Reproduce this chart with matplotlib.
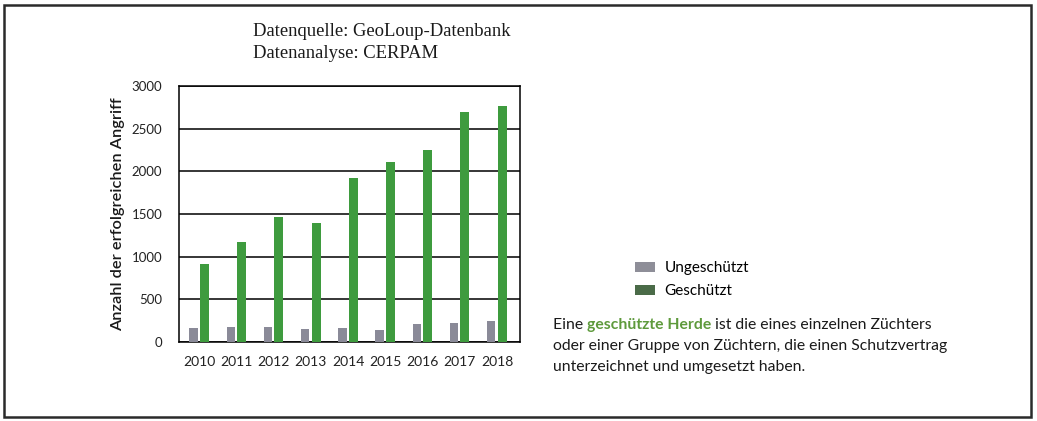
import matplotlib
matplotlib.use("Agg")
import matplotlib.pyplot as plt
from matplotlib.patches import Patch, Rectangle
import numpy as np

years = ["2010", "2011", "2012", "2013", "2014", "2015", "2016", "2017", "2018"]
ungeschuetzt = [165, 178, 178, 147, 167, 144, 213, 217, 248]
geschuetzt = [910, 1170, 1460, 1400, 1920, 2110, 2250, 2690, 2770]
yticks = [0, 500, 1000, 1500, 2000, 2500, 3000]
legend_labels = ["Ungeschützt", "Geschützt"]

W, H = 1037, 421
fig = plt.figure(figsize=(W / 100, H / 100), dpi=100)
fig.patch.set_facecolor("white")

def fx(px):
    return px / W

def fy(py):
    return 1 - py / H

# outer border
fig.add_artist(Rectangle((fx(4), fy(417)), fx(1031) - fx(4), fy(5) - fy(417),
                         transform=fig.transFigure, fill=False,
                         edgecolor="#2a2a2a", linewidth=1.8))

ax = fig.add_axes([fx(179), fy(342), fx(520) - fx(179), fy(86) - fy(342)])
x = np.arange(len(years))
gray = "#8a8a98"
green = "#3e9b3e"
ax.bar(x - 0.155, ungeschuetzt, width=0.225, color=gray, zorder=3)
ax.bar(x + 0.14, geschuetzt, width=0.24, color=green, zorder=3)
ax.set_xlim(-0.546, 8.62)
ax.set_ylim(0, 3000)
ax.set_yticks(yticks)
ax.set_xticks(x)
ax.set_xticklabels(years)
ax.yaxis.grid(True, color="black", linewidth=1.1, zorder=1)
for s in ax.spines.values():
    s.set_color("black")
    s.set_linewidth(1.1)
ax.tick_params(axis="y", length=0, labelsize=9.5, pad=12)
ax.tick_params(axis="x", length=0, labelsize=10, pad=10)
for lab in ax.get_xticklabels() + ax.get_yticklabels():
    lab.set_family("Lato")
    lab.set_color("#222222")
ax.set_ylabel("Anzahl der erfolgreichen Angriff", family="Lato", fontsize=11.8,
              fontweight="semibold", color="#1a1a1a", labelpad=5)

# title lines
fig.text(fx(253), fy(31), "Datenquelle: GeoLoup-Datenbank", family="Liberation Serif",
         fontsize=13.4, va="center", ha="left", color="#1a1a1a")
fig.text(fx(253), fy(53), "Datenanalyse: CERPAM", family="Liberation Serif",
         fontsize=13.4, va="center", ha="left", color="#1a1a1a")

# legend
handles = [Patch(facecolor="#8e8e98", edgecolor="none"),
           Patch(facecolor="#4a6b48", edgecolor="none")]
fig.legend(handles, legend_labels, loc="upper left",
           bbox_to_anchor=(fx(635), fy(261)), frameon=False, borderpad=0,
           borderaxespad=0,
           handlelength=1.3, handleheight=0.65, handletextpad=0.62,
           labelspacing=0.62, prop={"family": "Lato", "size": 11})

# explanatory text
fs = 11.3
t1 = fig.text(fx(553), fy(325), "Eine ", family="Lato", fontsize=fs, va="center",
              ha="left", color="#1a1a1a")
a2 = plt.annotate("geschützte Herde", xy=(1, 0), xycoords=t1, va="bottom", ha="left",
                  family="Lato", fontsize=fs, fontweight="bold", color="#5e9a3c",
                  annotation_clip=False)
a3 = plt.annotate(" ist die eines einzelnen Züchters", xy=(1, 0), xycoords=a2,
                  va="bottom", ha="left", family="Lato", fontsize=fs, color="#1a1a1a",
                  annotation_clip=False)
fig.text(fx(553), fy(346), "oder einer Gruppe von Züchtern, die einen Schutzvertrag",
         family="Lato", fontsize=fs, va="center", ha="left", color="#1a1a1a")
fig.text(fx(553), fy(367), "unterzeichnet und umgesetzt haben.",
         family="Lato", fontsize=fs, va="center", ha="left", color="#1a1a1a")

fig.savefig("out.png", dpi=100)
